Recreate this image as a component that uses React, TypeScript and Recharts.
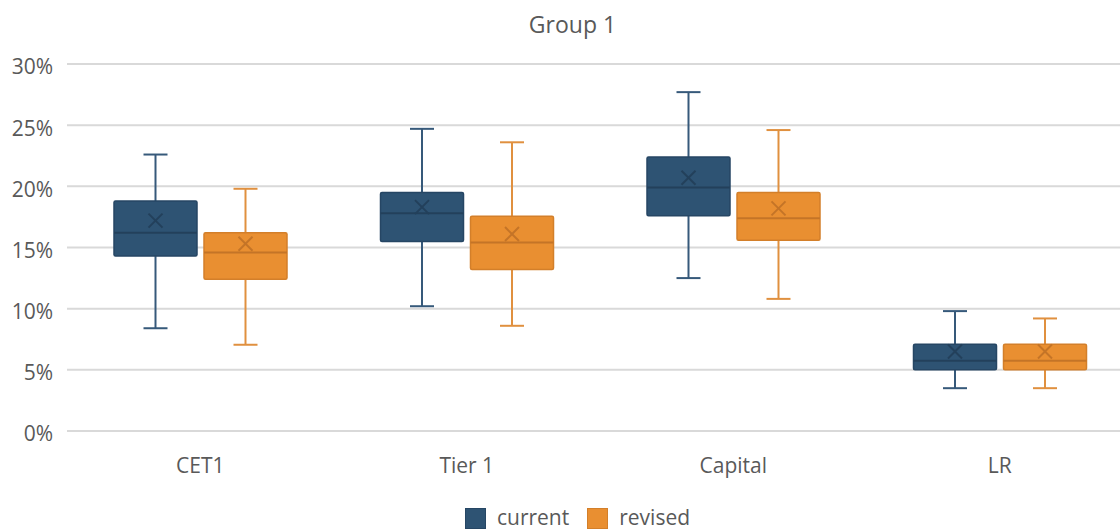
import { Bar, CartesianGrid, ComposedChart, Legend, XAxis, YAxis } from 'recharts';

const categories = ['CET1', 'Tier 1', 'Capital', 'LR'];

// box plot stats, in percent
const currentMin = [8.4, 10.2, 12.5, 3.5];
const currentQ1 = [14.3, 15.5, 17.6, 5.0];
const currentMedian = [16.2, 17.8, 19.9, 5.75];
const currentQ3 = [18.8, 19.5, 22.4, 7.1];
const currentMax = [22.6, 24.7, 27.7, 9.8];
const currentMean = [17.2, 18.3, 20.7, 6.5];

const revisedMin = [7.05, 8.6, 10.8, 3.5];
const revisedQ1 = [12.4, 13.2, 15.6, 5.0];
const revisedMedian = [14.6, 15.4, 17.4, 5.75];
const revisedQ3 = [16.2, 17.55, 19.5, 7.1];
const revisedMax = [19.8, 23.6, 24.6, 9.2];
const revisedMean = [15.3, 16.1, 18.2, 6.5];

const yTicks = [0, 5, 10, 15, 20, 25, 30];

const data = categories.map((name, i) => ({
  name,
  current: {
    min: currentMin[i],
    q1: currentQ1[i],
    median: currentMedian[i],
    q3: currentQ3[i],
    max: currentMax[i],
    mean: currentMean[i],
  },
  revised: {
    min: revisedMin[i],
    q1: revisedQ1[i],
    median: revisedMedian[i],
    q3: revisedQ3[i],
    max: revisedMax[i],
    mean: revisedMean[i],
  },
}));

const FONT = '"Open Sans", sans-serif';

const palette = {
  current: { fill: '#2E5373', stroke: '#264664', line: '#23405b', whisker: '#36597a' },
  revised: { fill: '#E98F31', stroke: '#D37F2A', line: '#c47427', whisker: '#E0903F' },
};

function makeBoxShape(key: 'current' | 'revised') {
  const c = palette[key];
  return (props: any) => {
    const { x, y, width, height, payload } = props;
    const s = payload[key];
    // bar spans min..max, map values inside it
    const py = (v: number) => y + (height * (s.max - v)) / (s.max - s.min);
    const cx = x + width / 2;
    const capW = 12;
    const yMax = py(s.max);
    const yMin = py(s.min);
    const yQ1 = py(s.q1);
    const yQ3 = py(s.q3);
    const yMed = py(s.median);
    const yMean = py(s.mean);
    const xs = 7;
    return (
      <g>
        <line x1={cx} x2={cx} y1={yMax} y2={yQ3} stroke={c.whisker} strokeWidth={2} />
        <line x1={cx} x2={cx} y1={yQ1} y2={yMin} stroke={c.whisker} strokeWidth={2} />
        <line x1={cx - capW} x2={cx + capW} y1={yMax} y2={yMax} stroke={c.whisker} strokeWidth={2} />
        <line x1={cx - capW} x2={cx + capW} y1={yMin} y2={yMin} stroke={c.whisker} strokeWidth={2} />
        <rect
          x={x}
          y={yQ3}
          width={width}
          height={yQ1 - yQ3}
          fill={c.fill}
          stroke={c.stroke}
          strokeWidth={1.5}
          rx={1.5}
        />
        <line x1={x} x2={x + width} y1={yMed} y2={yMed} stroke={c.line} strokeWidth={2} />
        <line x1={cx - xs} x2={cx + xs} y1={yMean - xs} y2={yMean + xs} stroke={c.line} strokeWidth={2} />
        <line x1={cx - xs} x2={cx + xs} y1={yMean + xs} y2={yMean - xs} stroke={c.line} strokeWidth={2} />
      </g>
    );
  };
}

function renderLegend(props: any) {
  const { payload } = props;
  return (
    <div style={{ display: 'flex', justifyContent: 'center', height: 30, fontFamily: FONT, paddingLeft: 40 }}>
      {(payload || []).map((p: any) => (
        <div key={p.value} style={{ display: 'flex', alignItems: 'flex-start', marginRight: 18 }}>
          <span
            style={{
              width: 19,
              height: 19,
              background: p.color,
              border: `1px solid ${p.value === 'current' ? palette.current.stroke : palette.revised.stroke}`,
              marginTop: 5,
              marginRight: 11,
            }}
          />
          <span style={{ fontSize: 21, color: '#595959', lineHeight: '28px' }}>{p.value}</span>
        </div>
      ))}
    </div>
  );
}

export default function App() {
  return (
    <div style={{ width: 1120, height: 531, overflow: 'hidden', position: 'relative', background: '#fff' }}>
      <style>{'body{margin:0}'}</style>
      <div
        style={{
          position: 'absolute',
          top: 8,
          left: 0,
          width: 1145,
          textAlign: 'center',
          fontFamily: FONT,
          fontSize: 23,
          color: '#595959',
        }}
      >
        Group 1
      </div>
      <ComposedChart
        width={1143}
        height={545}
        data={data}
        margin={{ top: 64, right: 10, left: 0, bottom: 4 }}
        barSize={83}
        barGap={7}
      >
        <CartesianGrid vertical={false} stroke="#D9D9D9" strokeWidth={2} />
        <XAxis
          dataKey="name"
          height={80}
          axisLine={false}
          tickLine={false}
          tickMargin={21}
          tick={{ fontFamily: FONT, fontSize: 21, fill: '#595959' }}
        />
        <YAxis
          width={67}
          domain={[0, 30]}
          ticks={yTicks}
          axisLine={false}
          tickLine={false}
          tickMargin={8}
          tickFormatter={(v: number) => `${v}%`}
          tick={{ fontFamily: FONT, fontSize: 21, fill: '#595959', dy: 3 }}
        />
        <Legend content={renderLegend} wrapperStyle={{ top: 503, bottom: undefined }} />
        <Bar
          name="current"
          dataKey={(d: any) => [d.current.min, d.current.max]}
          fill={palette.current.fill}
          shape={makeBoxShape('current')}
          isAnimationActive={false}
        />
        <Bar
          name="revised"
          dataKey={(d: any) => [d.revised.min, d.revised.max]}
          fill={palette.revised.fill}
          shape={makeBoxShape('revised')}
          isAnimationActive={false}
        />
      </ComposedChart>
    </div>
  );
}
